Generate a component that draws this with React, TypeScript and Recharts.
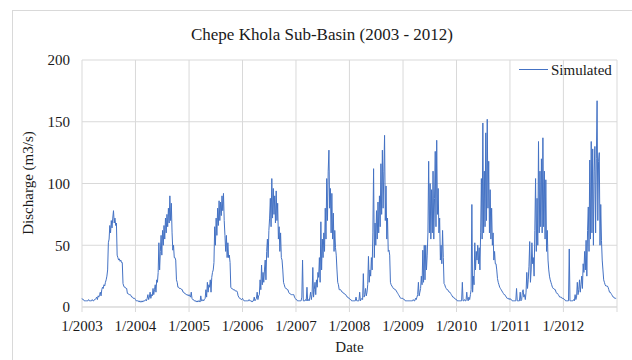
import { CartesianGrid, Line, LineChart, XAxis, YAxis } from "recharts";

// simulated discharge, one value every 5 days from 1 Jan of each year (m3/s)
const YEARS = [2003, 2004, 2005, 2006, 2007, 2008, 2009, 2010, 2011, 2012];

const q2003 = [
  7, 6, 6, 5, 5, 5, 5, 5, 5, 6, 5, 5, 5, 5, 6, 5, 5, 6, 6, 7, 8, 6, 9, 8,
  10, 12, 9, 14, 16, 15, 18, 17, 20, 22, 25, 30, 52, 55, 66, 60, 70, 64, 72,
  78, 68, 72, 66, 68, 42, 40, 38, 39, 37, 38, 36, 36, 19, 17, 16, 16, 15,
  15, 11, 11, 10, 10, 10, 9, 8, 8, 7, 7, 7,
];
const q2004 = [
  6, 5, 5, 5, 5, 4, 5, 4, 4, 5, 4, 5, 5, 5, 6, 5, 7, 10, 6, 8, 12, 7, 10, 9,
  15, 10, 14, 18, 12, 22, 20, 28, 52, 30, 45, 58, 42, 62, 50, 66, 55, 72, 60,
  75, 65, 80, 68, 90, 70, 84, 60, 46, 50, 40, 40, 38, 22, 20, 16, 16, 15,
  15, 15, 14, 14, 12, 12, 11, 11, 10, 10, 10, 9,
];
const q2005 = [
  10, 9, 8, 12, 7, 6, 6, 5, 5, 5, 4, 5, 4, 5, 5, 4, 9, 5, 5, 6, 5, 6, 7, 14,
  8, 20, 12, 18, 16, 22, 12, 24, 28, 30, 36, 65, 50, 72, 58, 80, 66, 86, 70,
  85, 74, 90, 78, 92, 70, 58, 45, 58, 40, 52, 40, 42, 36, 16, 15, 15, 14,
  14, 14, 13, 13, 13, 12, 9, 8, 7, 7, 6, 6,
];
const q2006 = [
  7, 6, 5, 5, 5, 5, 5, 5, 5, 6, 5, 5, 5, 4, 5, 5, 8, 5, 6, 7, 12, 6, 9, 10,
  22, 14, 34, 18, 28, 20, 30, 38, 22, 45, 55, 40, 62, 72, 88, 65, 104, 72, 96,
  75, 90, 68, 94, 70, 84, 55, 65, 45, 60, 40, 38, 30, 20, 18, 16, 15, 15,
  14, 14, 12, 11, 11, 10, 10, 10, 10, 10, 8, 7,
];
const q2007 = [
  6, 6, 5, 5, 5, 5, 5, 5, 8, 38, 5, 5, 5, 6, 5, 16, 5, 6, 5, 8, 12, 6, 10, 32,
  8, 14, 20, 10, 22, 16, 28, 24, 40, 20, 69, 30, 55, 40, 60, 45, 80, 55, 104,
  70, 110, 127, 80, 96, 60, 92, 55, 76, 45, 62, 48, 42, 30, 20, 18, 14, 14,
  14, 13, 12, 12, 11, 11, 10, 10, 9, 8, 8, 7,
];
const q2008 = [
  7, 6, 6, 5, 5, 5, 5, 5, 5, 8, 5, 5, 5, 5, 12, 5, 6, 7, 6, 27, 8, 10, 15, 9,
  12, 18, 41, 20, 30, 25, 40, 30, 60, 112, 40, 68, 50, 78, 55, 85, 60, 90, 65,
  116, 75, 127, 80, 110, 139, 70, 98, 55, 72, 45, 46, 42, 20, 18, 17, 16, 15,
  15, 14, 14, 13, 12, 11, 10, 9, 8, 7, 7, 7,
];
const q2009 = [
  7, 6, 6, 5, 5, 5, 5, 5, 5, 5, 5, 5, 5, 5, 6, 5, 5, 7, 6, 8, 10, 20, 9, 12,
  15, 25, 18, 46, 20, 50, 22, 50, 30, 42, 60, 118, 60, 100, 55, 95, 60, 110, 55,
  88, 126, 65, 135, 75, 96, 60, 72, 38, 50, 35, 62, 40, 19, 18, 16, 15, 14,
  14, 13, 12, 12, 11, 10, 9, 8, 8, 7, 7, 6,
];
const q2010 = [
  6, 5, 5, 5, 5, 5, 5, 5, 20, 5, 5, 6, 5, 5, 12, 6, 5, 8, 6, 10, 14, 83, 12, 25,
  18, 52, 30, 45, 38, 50, 35, 48, 30, 60, 104, 55, 149, 60, 110, 65, 141, 70, 152,
  80, 118, 60, 95, 55, 80, 50, 60, 38, 45, 35, 35, 30, 23, 20, 18, 16, 15,
  14, 13, 12, 11, 10, 10, 9, 8, 7, 7, 7, 6,
];
const q2011 = [
  7, 6, 6, 5, 5, 5, 5, 5, 5, 15, 5, 5, 5, 5, 12, 5, 6, 12, 14, 8, 10, 6, 12, 28,
  15, 22, 33, 53, 20, 30, 52, 35, 40, 25, 62, 104, 45, 88, 50, 134, 60, 110, 65,
  120, 60, 137, 65, 110, 55, 103, 45, 62, 38, 30, 25, 22, 20, 18, 16, 15, 15,
  14, 14, 12, 11, 11, 10, 9, 8, 8, 8, 7, 7,
];
const q2012 = [
  7, 6, 6, 5, 5, 5, 5, 5, 47, 5, 5, 5, 5, 5, 6, 5, 10, 6, 8, 20, 10, 14, 22, 12,
  18, 25, 15, 35, 28, 45, 30, 54, 25, 62, 81, 45, 119, 55, 134, 60, 128, 50, 110,
  130, 60, 120, 167, 70, 118, 125, 50, 83, 54, 38, 30, 22, 20, 18, 17, 17, 17,
  16, 14, 12, 12, 11, 10, 9, 8, 8, 7, 7, 7,
];
const SERIES = [q2003, q2004, q2005, q2006, q2007, q2008, q2009, q2010, q2011, q2012];

const TICK_LABELS = [
  "1/2003", "1/2004", "1/2005", "1/2006", "1/2007",
  "1/2008", "1/2009", "1/2010", "1/2011", "1/2012", "",
];
const Y_TICKS = [0, 50, 100, 150, 200];

const STEP_DAYS = 5;
const MS_PER_DAY = 86400000;
const dayOf = (year: number) =>
  (Date.UTC(year, 0, 1) - Date.UTC(2003, 0, 1)) / MS_PER_DAY;

const X_TICKS = [...YEARS, 2013].map(dayOf);

const data = SERIES.flatMap((vals, k) =>
  vals.map((v, i) => ({ day: dayOf(YEARS[k]) + STEP_DAYS * i, simulated: v })),
);

const FONT = '"Liberation Serif", "Times New Roman", serif';
const TEXT = "#1a1a1a";
const GRID = "#d9d9d9";
const BLUE = "#4472C4";

export default function App() {
  return (
    <div
      style={{
        position: "absolute",
        left: 0,
        top: 0,
        width: 632,
        height: 360,
        overflow: "hidden",
        background: "#fff",
        fontFamily: FONT,
        color: TEXT,
      }}
    >
      <style>{`svg text, svg tspan { font-family: "Liberation Serif", "Times New Roman", serif !important; }`}</style>
      <div
        style={{
          position: "absolute",
          left: 12,
          top: 10,
          width: 660,
          height: 400,
          border: `1px solid ${GRID}`,
        }}
      />
      <div
        style={{
          position: "absolute",
          left: 0,
          width: 644,
          top: 23,
          textAlign: "center",
          fontSize: 17,
          lineHeight: "24px",
        }}
      >
        Chepe Khola Sub-Basin (2003 - 2012)
      </div>

      <LineChart
        width={632}
        height={360}
        data={data}
        margin={{ top: 60, right: 15, bottom: 10, left: 0 }}
        style={{ position: "absolute", left: 0, top: 0, fontFamily: FONT }}
      >
        <CartesianGrid stroke={GRID} strokeWidth={1} />
        <XAxis
          dataKey="day"
          type="number"
          domain={[0, X_TICKS[X_TICKS.length - 1]]}
          ticks={X_TICKS}
          tickFormatter={(_v: number, i: number) => TICK_LABELS[i]}
          interval={0}
          height={43}
          stroke={GRID}
          tickSize={5}
          tickMargin={8}
          tick={{ fill: TEXT, fontSize: 15, fontFamily: "Liberation Serif" }}
        />
        <YAxis
          domain={[0, 200]}
          ticks={Y_TICKS}
          width={82}
          axisLine={false}
          tickLine={false}
          tickSize={0}
          tickMargin={12}
          tick={{ fill: TEXT, fontSize: 15, fontFamily: "Liberation Serif" }}
        />
        <Line
          type="linear"
          dataKey="simulated"
          stroke={BLUE}
          strokeWidth={1}
          dot={false}
          isAnimationActive={false}
        />
      </LineChart>

      <div
        style={{
          position: "absolute",
          left: 28,
          top: 183,
          transform: "translate(-50%, -50%) rotate(-90deg)",
          whiteSpace: "nowrap",
          fontSize: 15,
        }}
      >
        Discharge (m3/s)
      </div>
      <div
        style={{
          position: "absolute",
          left: 0,
          width: 699,
          top: 337,
          textAlign: "center",
          fontSize: 15,
          lineHeight: "20px",
        }}
      >
        Date
      </div>

      <div
        style={{
          position: "absolute",
          left: 519,
          top: 69,
          width: 29,
          height: 1,
          background: BLUE,
        }}
      />
      <div
        style={{
          position: "absolute",
          left: 551,
          top: 60,
          fontSize: 15,
          lineHeight: "20px",
        }}
      >
        Simulated
      </div>
    </div>
  );
}
